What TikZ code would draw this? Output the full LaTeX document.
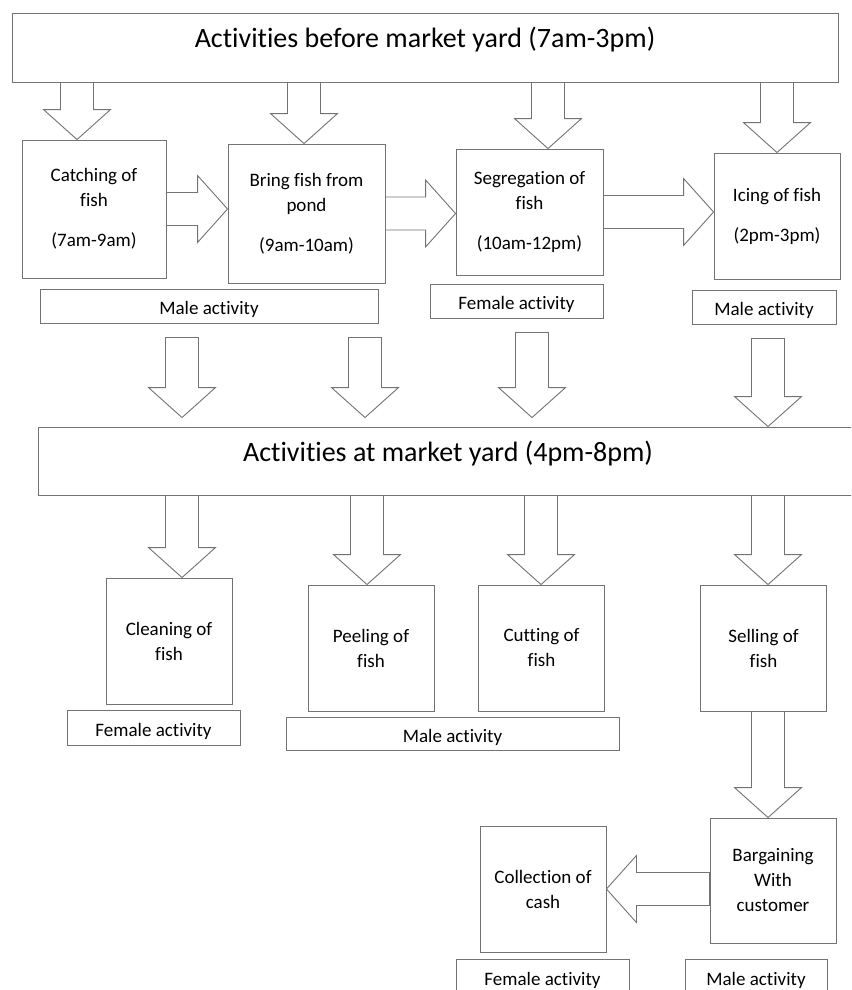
\documentclass[tikz,border=0pt]{standalone}
\usepackage{fontspec}
\setmainfont{Carlito}[Ligatures=NoCommon]
\usetikzlibrary{calc}

\tikzset{
  headbox/.style={draw=black!55, line width=0.9pt, font=\fontsize{28}{32}\selectfont, text height=19pt, text depth=19pt},
  stage/.style={draw=black!55, line width=0.9pt, align=center, font=\fontsize{19}{25}\selectfont, inner sep=2pt},
  tagbox/.style={draw=black!55, line width=0.9pt, font=\fontsize{19}{22}\selectfont, text height=17pt, text depth=0pt, inner ysep=0pt},
  blockarr/.style={draw=black!55, line width=0.9pt, fill=white, line join=miter},
}

\newcommand{\blockarrow}[2]{%
  \coordinate (ba) at (#1); \coordinate (bb) at (#2); \coordinate (bc) at ($(bb)!30pt!(ba)$);
  \draw[blockarr] ($(ba)!16.5pt!90:(bb)$) -- ($(bc)!16.5pt!90:(bb)$) -- ($(bc)!33.5pt!90:(bb)$) -- (bb)
    -- ($(bc)!33.5pt!-90:(bb)$) -- ($(bc)!16.5pt!-90:(bb)$) -- ($(ba)!16.5pt!-90:(bb)$) -- cycle;}

\begin{document}
\begin{tikzpicture}[x=1pt,y=-1pt]
\useasboundingbox (0,0) rectangle (851,990);
\clip (0,0) rectangle (851,990);

\node[headbox, minimum width=826pt, minimum height=69pt] (title1) at (425,47.5) {Activities before market yard (7am-3pm)};

\node[stage, minimum width=144pt, minimum height=138pt] (catch) at (94,209) {Catching of\\fish\\[15pt](7am-9am)};
\node[stage, minimum width=157pt, minimum height=139pt] (bring) at (306.5,213.5) {Bring fish from\\pond\\[15pt](9am-10am)};
\node[stage, minimum width=147pt, minimum height=126pt] (segr) at (529.5,212) {Segregation of\\fish\\[15pt](10am-12pm)};
\node[stage, minimum width=126pt, minimum height=126pt] (icing) at (777,216) {Icing of fish\\[15pt](2pm-3pm)};

\node[tagbox, minimum width=338pt, minimum height=34pt] (male1) at (209,306) {Male activity};
\node[tagbox, minimum width=173pt, minimum height=34pt] (female1) at (516.5,301) {Female activity};
\node[tagbox, minimum width=144pt, minimum height=34pt] (male2) at (764,307) {Male activity};

\node[headbox, minimum width=820pt, minimum height=68pt] (title2) at (448,461) {Activities at market yard (4pm-8pm)};

\node[stage, minimum width=126pt, minimum height=126pt] (clean) at (169,641) {Cleaning of\\fish};
\node[stage, minimum width=126pt, minimum height=126pt] (peel) at (371,648) {Peeling of\\fish};
\node[stage, minimum width=126pt, minimum height=126pt] (cut) at (541.5,648) {Cutting of\\fish};
\node[stage, minimum width=126pt, minimum height=126pt] (sell) at (763.5,648) {Selling of\\fish};

\node[tagbox, minimum width=173pt, minimum height=35pt] (female2) at (153.5,727.5) {Female activity};
\node[tagbox, minimum width=333pt, minimum height=33pt] (male3) at (452.5,733.5) {Male activity};

\node[stage, minimum width=126pt, minimum height=125pt] (barg) at (773,880.5) {Bargaining\\With\\customer};
\node[stage, minimum width=126pt, minimum height=126pt] (coll) at (543,889) {Collection of\\cash};

\node[tagbox, minimum width=173pt, minimum height=36pt] (female3) at (542.5,977) {Female activity};
\node[tagbox, minimum width=142pt, minimum height=36pt] (male4) at (756,977) {Male activity};

\foreach \n/\x in {u1/77,u2/304,u3/548,u4/777,m1/182,m2/365,m3/532,m4/768,l1/182,l2/367,l3/541,l4/768}
  \coordinate (\n) at (\x,0);

\foreach \c/\b in {u1/catch,u2/bring,u3/segr,u4/icing}
  \blockarrow{title1.south -| \c}{\b.north -| \c};
\blockarrow{catch.east}{bring.west |- catch.east}
\blockarrow{bring.east}{segr.west |- bring.east}
\blockarrow{segr.east}{icing.west |- segr.east}

\foreach \c/\b/\g in {m1/male1/9,m2/male1/9,m3/female1/9,m4/male2/0}
  \blockarrow{$(\b.south -| \c)+(0,14)$}{$(title2.north -| \c)+(0,-\g)$};

\foreach \c/\b in {l1/clean,l2/peel,l3/cut,l4/sell}
  \blockarrow{title2.south -| \c}{\b.north -| \c};

\blockarrow{sell.south -| l4}{barg.north -| l4}
\blockarrow{barg.west |- coll.east}{coll.east}
\end{tikzpicture}
\end{document}
